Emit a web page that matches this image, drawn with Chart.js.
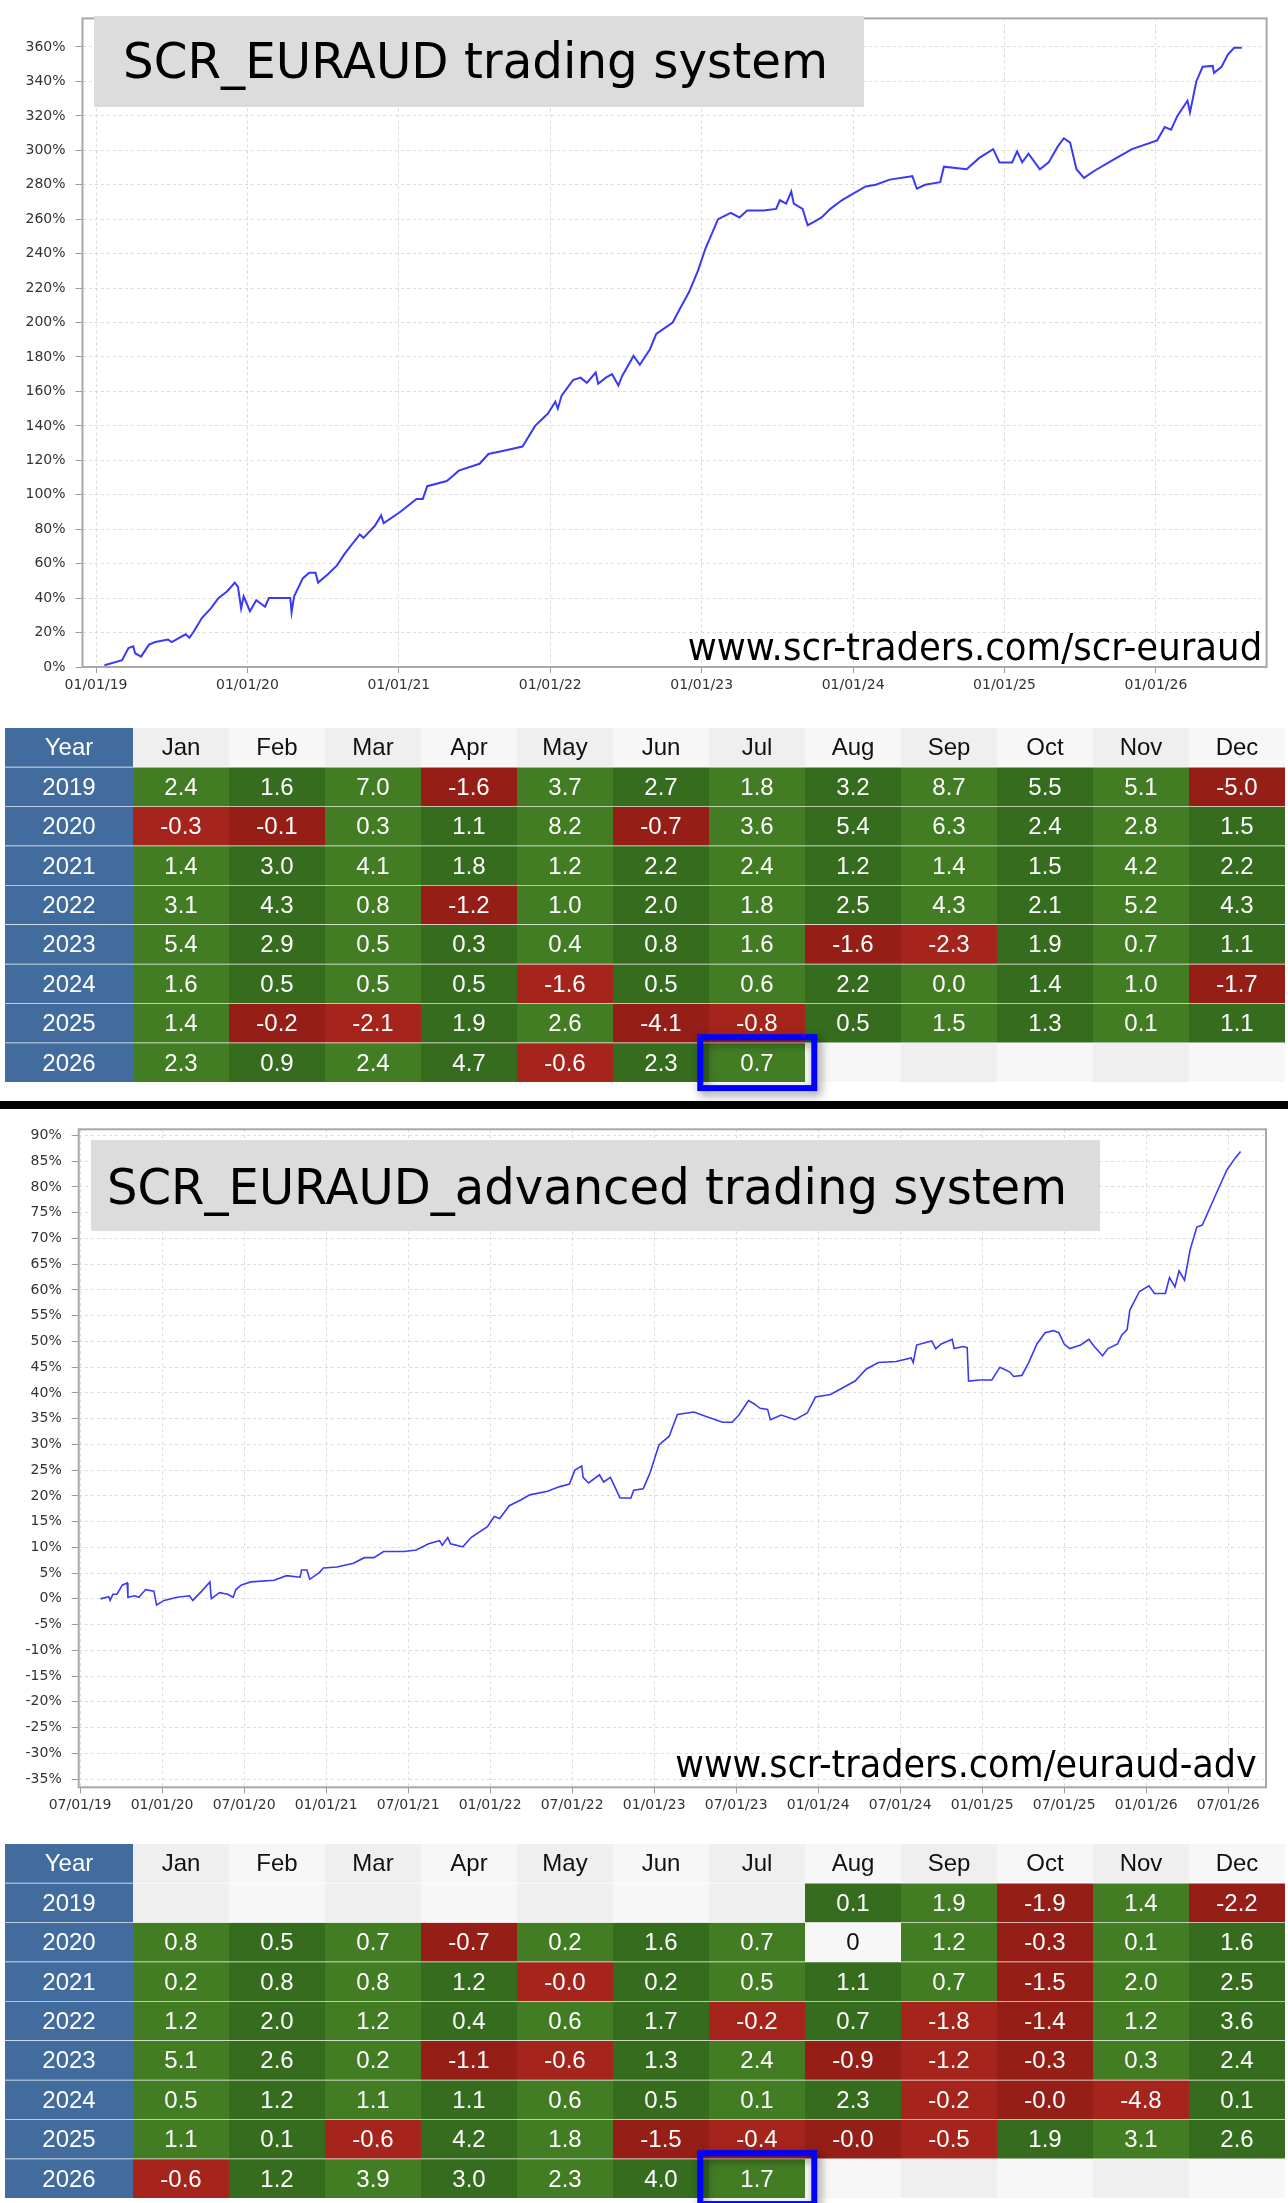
<!DOCTYPE html>
<html>
<head>
<meta charset="utf-8">
<title>SCR_EURAUD trading systems</title>
<script src="https://cdn.jsdelivr.net/npm/chart.js@4.4.1/dist/chart.umd.min.js"></script>
<style>
  html, body { margin: 0; padding: 0; background: #fff; }
  #page { position: relative; width: 1288px; height: 2203px; overflow: hidden; }
  #page canvas { position: absolute; left: 0; }
  .titleBox { position: absolute; background: #dcdcdc; }
  .big { position: absolute; font-family: "DejaVu Sans", sans-serif; color: #000; white-space: nowrap; line-height: 1; }
  .title { font-size: 49px; transform-origin: 0 0; }
  .mark { font-size: 37px; transform-origin: 100% 0; }
  #sep { position: absolute; left: 0; top: 1101px; width: 1288px; height: 8px; background: #000; }
</style>
</head>
<body>
<div id="page">
  <canvas id="equity1" width="1288" height="700" style="top:0"></canvas>
  <div class="titleBox" style="left:94px;top:16px;width:770px;height:91px"></div>
  <span class="big title" id="title1" style="left:123px;top:36.8px">SCR_EURAUD trading system</span>
  <span class="big mark" id="mark1" style="right:26px;top:628.7px">www.scr-traders.com/scr-euraud</span>

  <canvas id="table1" width="1288" height="384" style="top:718px"></canvas>
  <div id="sep"></div>

  <canvas id="equity2" width="1288" height="720" style="top:1110px"></canvas>
  <div class="titleBox" style="left:91px;top:1140px;width:1009px;height:91px"></div>
  <span class="big title" id="title2" style="left:107px;top:1162.5px">SCR_EURAUD_advanced trading system</span>
  <span class="big mark" id="mark2" style="right:31px;top:1745.5px">www.scr-traders.com/euraud-adv</span>

  <canvas id="table2" width="1288" height="369" style="top:1834px"></canvas>
</div>

<script>
// ---- data ----
const months = ["Jan", "Feb", "Mar", "Apr", "May", "Jun", "Jul", "Aug", "Sep", "Oct", "Nov", "Dec"];
const years = ["2019", "2020", "2021", "2022", "2023", "2024", "2025", "2026"];
const currentYear = "2026";
const currentMonth = "Jul";

// equity curve 1, x = months since 01/01/19, y = % gain
const equityMonths1 = [0.67, 2.07, 2.57, 2.95, 3.1, 3.57, 4.2, 4.7, 5.7, 6.0,
  7.1, 7.4, 7.7, 8.4, 9.07, 9.7, 10.4, 11.0, 11.25, 11.5,
  11.7, 12.2, 12.7, 13.4, 13.7, 15.4, 15.5, 15.7, 16.4, 16.9,
  17.4, 17.6, 18.4, 19.1, 19.7, 20.9, 21.2, 22.1, 22.6, 22.8,
  24.1, 25.4, 25.9, 26.25, 27.8, 28.3, 28.75, 30.4, 31.1, 32.4,
  33.8, 34.8, 35.8, 36.4, 36.6, 36.9, 37.8, 38.4, 38.9, 39.6,
  39.8, 40.4, 40.9, 41.4, 41.7, 42.6, 43.1, 43.9, 44.4, 45.7,
  46.2, 47.0, 47.7, 48.3, 49.3, 50.3, 51.0, 51.6, 52.9, 53.9,
  54.2, 54.7, 55.1, 55.3, 56.0, 56.4, 56.9, 57.5, 58.2, 59.1,
  59.8, 61.0, 61.8, 62.9, 64.4, 64.7, 65.05, 65.7, 66.9, 67.2,
  69.0, 70.0, 71.1, 71.6, 72.6, 73.0, 73.4, 73.9, 74.8, 75.5,
  76.2, 76.7, 77.2, 77.7, 78.3, 79.1, 80.5, 82.1, 84.1, 84.7,
  85.2, 85.7, 86.5, 86.7, 87.2, 87.7, 88.5, 88.6, 89.2, 89.7,
  90.2, 90.8];
const equityValues1 = [1, 4, 11, 12, 8, 6, 13, 14.5, 16, 14.5,
  19, 17, 20, 28.6, 33.7, 40, 44, 49, 46.5, 34,
  41, 32.4, 38.8, 35, 40, 40, 31.7, 41, 51.6, 54.7,
  54.7, 49, 54, 59, 65.7, 77, 75, 82, 88, 83.5,
  90, 97.6, 97.6, 105, 108, 111, 114, 118, 123.7, 125.7,
  128, 140, 147, 154, 150, 157.6, 166.6, 168, 165, 171,
  164.5, 168, 170, 163.5, 169, 180.6, 175.5, 184.5, 193.4, 200,
  207, 217.7, 230, 243, 260, 263.7, 261, 265, 265, 266,
  271, 269, 276, 269, 266, 256.5, 258.5, 261, 266, 271,
  274, 279, 280, 283, 284.6, 285, 277.7, 280, 281.5, 290.5,
  289, 295.6, 300.7, 293, 293, 299.4, 293, 298, 289, 293,
  302, 307, 304.5, 289, 284, 288, 294, 300.7, 305.8, 313.5,
  312, 320, 328.8, 322, 340, 348.5, 349, 345, 348.5, 355.6,
  359.5, 359.5];
const xTickMonths1 = [0, 12, 24, 36, 48, 60, 72, 84];
const xTickLabels1 = ["01/01/19", "01/01/20", "01/01/21", "01/01/22", "01/01/23", "01/01/24", "01/01/25", "01/01/26"];
const yTicks1 = [0, 20, 40, 60, 80, 100, 120, 140, 160, 180, 200, 220, 240, 260, 280, 300, 320, 340, 360];

// equity curve 2
const equityMonths2 = [7.5, 8.1, 8.2, 8.4, 8.7, 9.1, 9.45, 9.5, 10.0, 10.3,
  10.8, 11.4, 11.6, 12.15, 13.1, 14.0, 14.25, 14.9, 15.5, 15.6,
  16.2, 16.8, 17.2, 17.4, 17.8, 18.5, 20.2, 21.1, 22.1, 22.2,
  22.6, 22.8, 23.5, 23.8, 24.8, 26.0, 26.8, 27.5, 28.2, 29.7,
  30.6, 31.5, 32.3, 32.5, 32.9, 33.1, 34.0, 34.6, 35.8, 36.3,
  36.7, 37.4, 38.3, 38.9, 40.2, 41.1, 41.8, 42.2, 42.7, 42.8,
  43.2, 44.0, 44.3, 44.8, 45.5, 46.3, 46.5, 47.2, 47.7, 48.35,
  49.1, 49.7, 50.9, 51.8, 53.0, 53.7, 54.2, 54.9, 55.3, 55.75,
  56.3, 56.5, 57.3, 58.3, 59.2, 59.8, 60.9, 61.8, 62.7, 63.5,
  64.4, 65.7, 66.8, 66.95, 67.2, 68.3, 68.6, 69.0, 69.8, 69.95,
  70.6, 70.9, 71.0, 71.8, 72.7, 73.3, 74.0, 74.3, 74.9, 75.4,
  76.0, 76.6, 77.2, 77.6, 78.0, 78.4, 79.2, 79.8, 80.2, 80.8,
  81.2, 81.9, 82.2, 82.6, 82.8, 83.5, 84.2, 84.6, 85.4, 85.7,
  86.1, 86.4, 86.8, 87.2, 87.7, 88.1, 88.7, 89.3, 89.9, 90.5,
  90.9];
const equityValues2 = [0, 0.4, -0.3, 0.9, 0.9, 2.7, 3.1, 0.3, 0.6, 0.3,
  1.8, 1.5, -1.2, -0.3, 0.3, 0.6, -0.3, 1.5, 3.3, 0,
  1.2, 0.9, 0.3, 1.8, 2.7, 3.3, 3.6, 4.5, 4.2, 5.6,
  5.6, 3.8, 5.1, 6.0, 6.2, 6.9, 8.0, 8.0, 9.2, 9.2,
  9.5, 10.7, 11.3, 10.4, 11.9, 10.7, 10.1, 11.9, 14.0, 16.0,
  15.6, 18.1, 19.3, 20.2, 20.9, 21.8, 22.3, 25.0, 25.8, 23.6,
  22.5, 24.1, 22.7, 23.6, 19.6, 19.6, 21.1, 21.4, 24.5, 29.9,
  31.6, 35.8, 36.3, 35.4, 34.3, 34.3, 35.7, 38.5, 37.9, 37.0,
  36.8, 34.8, 35.7, 34.8, 36.1, 39.2, 39.7, 41.0, 42.3, 44.6,
  45.9, 46.1, 46.8, 45.9, 49.3, 50.1, 48.6, 49.5, 50.4, 48.6,
  49.0, 48.8, 42.3, 42.5, 42.5, 45.0, 44.1, 43.2, 43.4, 45.9,
  49.5, 51.7, 52.1, 51.7, 49.5, 48.6, 49.3, 50.4, 49.0, 47.2,
  48.6, 49.5, 51.2, 52.3, 56.1, 59.7, 60.8, 59.3, 59.3, 62.4,
  60.6, 63.7, 61.9, 67.7, 72.2, 72.6, 76.2, 79.8, 83.3, 85.6,
  86.9];
const xTickMonths2 = [6, 12, 18, 24, 30, 36, 42, 48, 54, 60, 66, 72, 78, 84, 90];
const xTickLabels2 = ["07/01/19", "01/01/20", "07/01/20", "01/01/21", "07/01/21", "01/01/22", "07/01/22", "01/01/23",
  "07/01/23", "01/01/24", "07/01/24", "01/01/25", "07/01/25", "01/01/26", "07/01/26"];
const yTicks2 = [-35, -30, -25, -20, -15, -10, -5, 0, 5, 10, 15, 20, 25, 30, 35, 40, 45, 50, 55, 60, 65, 70, 75, 80, 85, 90];

// monthly returns (%), one row per year, "" = no data
const returns1 = [
  ["2.4", "1.6", "7.0", "-1.6", "3.7", "2.7", "1.8", "3.2", "8.7", "5.5", "5.1", "-5.0"],
  ["-0.3", "-0.1", "0.3", "1.1", "8.2", "-0.7", "3.6", "5.4", "6.3", "2.4", "2.8", "1.5"],
  ["1.4", "3.0", "4.1", "1.8", "1.2", "2.2", "2.4", "1.2", "1.4", "1.5", "4.2", "2.2"],
  ["3.1", "4.3", "0.8", "-1.2", "1.0", "2.0", "1.8", "2.5", "4.3", "2.1", "5.2", "4.3"],
  ["5.4", "2.9", "0.5", "0.3", "0.4", "0.8", "1.6", "-1.6", "-2.3", "1.9", "0.7", "1.1"],
  ["1.6", "0.5", "0.5", "0.5", "-1.6", "0.5", "0.6", "2.2", "0.0", "1.4", "1.0", "-1.7"],
  ["1.4", "-0.2", "-2.1", "1.9", "2.6", "-4.1", "-0.8", "0.5", "1.5", "1.3", "0.1", "1.1"],
  ["2.3", "0.9", "2.4", "4.7", "-0.6", "2.3", "0.7", "", "", "", "", ""]
];
const returns2 = [
  ["", "", "", "", "", "", "", "0.1", "1.9", "-1.9", "1.4", "-2.2"],
  ["0.8", "0.5", "0.7", "-0.7", "0.2", "1.6", "0.7", "0", "1.2", "-0.3", "0.1", "1.6"],
  ["0.2", "0.8", "0.8", "1.2", "-0.0", "0.2", "0.5", "1.1", "0.7", "-1.5", "2.0", "2.5"],
  ["1.2", "2.0", "1.2", "0.4", "0.6", "1.7", "-0.2", "0.7", "-1.8", "-1.4", "1.2", "3.6"],
  ["5.1", "2.6", "0.2", "-1.1", "-0.6", "1.3", "2.4", "-0.9", "-1.2", "-0.3", "0.3", "2.4"],
  ["0.5", "1.2", "1.1", "1.1", "0.6", "0.5", "0.1", "2.3", "-0.2", "-0.0", "-4.8", "0.1"],
  ["1.1", "0.1", "-0.6", "4.2", "1.8", "-1.5", "-0.4", "-0.0", "-0.5", "1.9", "3.1", "2.6"],
  ["-0.6", "1.2", "3.9", "3.0", "2.3", "4.0", "1.7", "", "", "", "", ""]
];

Chart.defaults.font.family = '"DejaVu Sans", sans-serif';

const frame = {
  id: "frame",
  beforeDatasetsDraw(chart) {
    const { ctx, chartArea: a } = chart;
    ctx.save();
    ctx.strokeStyle = "#a8a8a8";
    ctx.lineWidth = 2;
    ctx.strokeRect(a.left, a.top, a.right - a.left, a.bottom - a.top);
    ctx.restore();
  }
};

function equityChart(id, xs, ys, o) {
  return new Chart(document.getElementById(id), {
    type: "line",
    data: {
      datasets: [{
        data: xs.map((x, i) => ({ x: x, y: ys[i] })),
        borderColor: "#3a3af5",
        borderWidth: o.lineWidth,
        pointRadius: 0,
        tension: 0
      }]
    },
    options: {
      responsive: false,
      animation: false,
      layout: { padding: o.padding },
      plugins: { legend: { display: false }, tooltip: { enabled: false } },
      scales: {
        x: {
          type: "linear",
          min: o.xMin,
          max: o.xMax,
          afterBuildTicks: (s) => { s.ticks = o.xTicks.map((v) => ({ value: v })); },
          afterFit: (s) => { s.height = o.xHeight; },
          grid: { color: "#dcdcdc", tickColor: "#9a9a9a", tickLength: 6 },
          border: { display: false, dash: [3, 3] },
          ticks: {
            autoSkip: false,
            maxRotation: 0,
            color: "#333",
            font: { size: 14 },
            padding: 4,
            callback: (v) => o.xLabels[o.xTicks.indexOf(v)]
          }
        },
        y: {
          min: o.yMin,
          max: o.yMax,
          afterBuildTicks: (s) => { s.ticks = o.yTicks.map((v) => ({ value: v })); },
          afterFit: (s) => { s.width = o.yWidth; },
          grid: { color: "#dcdcdc", tickColor: "#9a9a9a", tickLength: 7 },
          border: { display: false, dash: [3, 3] },
          ticks: {
            color: "#333",
            font: { size: 14 },
            padding: 10,
            callback: (v) => v + "%"
          }
        }
      }
    },
    plugins: [frame]
  });
}

equityChart("equity1", equityMonths1, equityValues1, {
  lineWidth: 2,
  padding: { top: 8, right: 21.4, left: 0, bottom: 0 },
  xMin: -1.07, xMax: 92.77, xTicks: xTickMonths1, xLabels: xTickLabels1, xHeight: 33,
  yMin: 0, yMax: 376.6, yTicks: yTicks1, yWidth: 82.5
});

equityChart("equity2", equityMonths2, equityValues2, {
  lineWidth: 1.6,
  padding: { top: 19.3, right: 22, left: 0, bottom: 0 },
  xMin: 5.9, xMax: 92.76, xTicks: xTickMonths2, xLabels: xTickLabels2, xHeight: 42.7,
  yMin: -36.6, yMax: 91.2, yTicks: yTicks2, yWidth: 78.7
});

// ---- monthly tables ----
const cellColors = {
  year: "#416c9d",
  grey: ["#efefef", "#f7f7f7"],
  green: ["#427d24", "#366c1e"],
  red: ["#a5241b", "#951e17"]
};

function tableChart(id, rows, padding) {
  const header = ["Year"].concat(months);
  const rowNames = ["Year"].concat(years);
  const edges = [0];
  for (let c = 0; c < header.length; c++) edges.push(edges[c] + (c === 0 ? 4 : 3));

  const text = (r, c) => (r === 0 ? header[c] : c === 0 ? rowNames[r] : rows[r - 1][c - 1]);
  const fill = (r, c) => {
    if (c === 0) return cellColors.year;
    const k = (c - 1) % 2;
    const t = text(r, c);
    if (r === 0 || t === "" || t === "0") return cellColors.grey[k];
    return t.charAt(0) === "-" ? cellColors.red[k] : cellColors.green[k];
  };
  const ink = (r, c) => (c > 0 && (r === 0 || text(r, c) === "0") ? "#111" : "#fff");

  const hiRow = years.indexOf(currentYear) + 1;
  const hiCol = months.indexOf(currentMonth) + 1;

  const labels = {
    id: "cellLabels",
    afterDatasetsDraw(chart) {
      const ctx = chart.ctx;
      ctx.save();
      ctx.font = '24px "Liberation Sans", Arial, sans-serif';
      ctx.textAlign = "center";
      ctx.textBaseline = "middle";
      chart.data.datasets.forEach((ds, c) => {
        chart.getDatasetMeta(c).data.forEach((bar, r) => {
          const t = text(r, c);
          if (!t) return;
          const p = bar.getProps(["x", "y", "base"], true);
          ctx.fillStyle = ink(r, c);
          ctx.fillText(t, (p.x + p.base) / 2, p.y + 1);
        });
      });
      // current month frame
      const cell = chart.getDatasetMeta(hiCol).data[hiRow];
      if (cell) {
        const p = cell.getProps(["x", "y", "base", "height"], true);
        const top = p.y - p.height / 2;
        ctx.shadowColor = "rgba(0,0,0,0.45)";
        ctx.shadowBlur = 10;
        ctx.shadowOffsetX = 3;
        ctx.shadowOffsetY = 4;
        ctx.strokeStyle = "#0000ff";
        ctx.lineWidth = 6;
        ctx.strokeRect(p.base - 8.7, top - 6, p.x - p.base + 18, p.height + 11.5);
      }
      ctx.restore();
    }
  };

  return new Chart(document.getElementById(id), {
    type: "bar",
    data: {
      labels: rowNames,
      datasets: header.map((h, c) => ({
        label: h,
        data: rowNames.map(() => [edges[c], edges[c + 1]]),
        backgroundColor: rowNames.map((n, r) => fill(r, c)),
        borderColor: "#ffffff",
        borderWidth: { top: 0, left: 0, right: 0, bottom: 1 },
        borderSkipped: false,
        barPercentage: 1,
        categoryPercentage: 1,
        grouped: false
      }))
    },
    options: {
      indexAxis: "y",
      responsive: false,
      animation: false,
      layout: { padding: padding },
      plugins: { legend: { display: false }, tooltip: { enabled: false } },
      scales: {
        x: { type: "linear", min: 0, max: edges[edges.length - 1], display: false },
        y: { type: "category", display: false }
      }
    },
    plugins: [labels]
  });
}

tableChart("table1", returns1, { top: 10, bottom: 19.4, left: 5, right: 3 });
tableChart("table2", returns2, { top: 10, bottom: 4.4, left: 5, right: 3 });

// fit the big captions to their measured widths
[["title1", 705], ["title2", 960], ["mark1", 574.5], ["mark2", 581.6]].forEach(([id, w]) => {
  const el = document.getElementById(id);
  el.style.transform = "scaleX(" + (w / el.getBoundingClientRect().width).toFixed(4) + ")";
});
</script>
</body>
</html>
